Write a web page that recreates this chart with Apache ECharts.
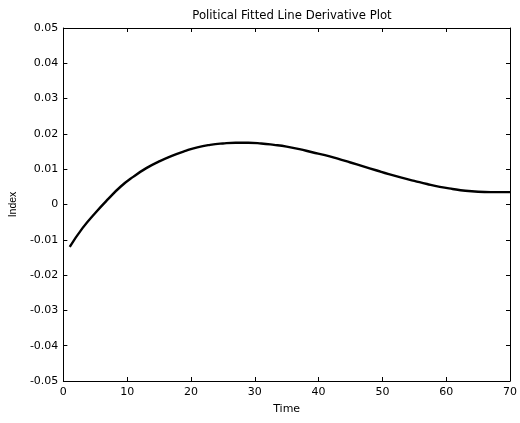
<!DOCTYPE html>
<html>
<head>
<meta charset="utf-8">
<script src="https://cdn.jsdelivr.net/npm/echarts@6/dist/echarts.min.js"></script>
<style>
  html, body { margin: 0; padding: 0; background: #fff; }
  #chart { width: 520px; height: 423px; }
</style>
</head>
<body>
<div id="chart"></div>
<script>
// Derivative of the fitted political index over time
const times = [1, 3, 5, 7, 9, 11, 13, 15, 17, 19, 21, 23, 25, 27, 29, 31, 33, 35, 37, 39,
  41, 43, 45, 47, 49, 51, 53, 55, 57, 59, 61, 63, 65, 67, 69, 70];
const derivative = [-0.0120, -0.0067, -0.0024, 0.0015, 0.0051, 0.0079, 0.0103, 0.0122, 0.0138, 0.0151,
  0.0162, 0.0169, 0.0173, 0.0175, 0.0175, 0.0173, 0.0169, 0.0164, 0.0157, 0.0148,
  0.0140, 0.0130, 0.0119, 0.0108, 0.0097, 0.0086, 0.0076, 0.0067, 0.0058, 0.0050,
  0.0044, 0.0039, 0.0036, 0.0035, 0.0035, 0.0035];
const xTicks = [0, 10, 20, 30, 40, 50, 60, 70];
const yTicks = [-0.05, -0.04, -0.03, -0.02, -0.01, 0, 0.01, 0.02, 0.03, 0.04, 0.05];

const chartTitle = 'Political Fitted Line Derivative Plot';
const xName = 'Time';
const yName = 'Index';

const font = '"DejaVu Sans", Verdana, sans-serif';
const rotFont = 'Arial, "Liberation Sans", sans-serif';
const points = times.map((t, i) => [t, derivative[i]]);

const lineStyle = { color: '#000', width: 1 };
const fmtY = v => (Math.abs(v) < 1e-9 ? '0' : v.toFixed(2));

const chart = echarts.init(document.getElementById('chart'), null, { renderer: 'canvas' });
chart.setOption({
  animation: false,
  backgroundColor: '#fff',
  title: {
    text: chartTitle,
    left: 287, top: 5,
    textAlign: 'center',
    textStyle: { fontFamily: font, fontSize: 11.7, fontWeight: 'normal', color: '#000' }
  },
  grid: { left: 63, right: 9, top: 28, bottom: 42, containLabel: false },
  xAxis: [
    {
      type: 'value', min: xTicks[0], max: xTicks[xTicks.length - 1], interval: 10,
      name: xName, nameLocation: 'middle', nameGap: 23,
      nameTextStyle: { fontFamily: font, fontSize: 11, color: '#000' },
      axisLine: { show: true, onZero: false, lineStyle },
      axisTick: { show: true, inside: true, length: 4, lineStyle },
      axisLabel: { fontFamily: font, fontSize: 11, color: '#000', margin: 6 },
      splitLine: { show: false }
    },
    {
      type: 'value', position: 'top', min: xTicks[0], max: xTicks[xTicks.length - 1], interval: 10,
      axisLine: { show: true, onZero: false, lineStyle },
      axisTick: { show: true, inside: true, length: 4, lineStyle },
      axisLabel: { show: false },
      splitLine: { show: false }
    }
  ],
  yAxis: [
    {
      type: 'value', min: yTicks[0], max: yTicks[yTicks.length - 1], interval: 0.01,
      name: yName, nameLocation: 'middle', nameGap: 44, nameRotate: 90,
      nameTextStyle: { fontFamily: rotFont, fontSize: 10.5, color: '#000' },
      axisLine: { show: true, onZero: false, lineStyle },
      axisTick: { show: true, inside: true, length: 4, lineStyle },
      axisLabel: { fontFamily: font, fontSize: 11, color: '#000', margin: 5, formatter: fmtY },
      splitLine: { show: false }
    },
    {
      type: 'value', position: 'right', min: yTicks[0], max: yTicks[yTicks.length - 1], interval: 0.01,
      axisLine: { show: true, onZero: false, lineStyle },
      axisTick: { show: true, inside: true, length: 4, lineStyle },
      axisLabel: { show: false },
      splitLine: { show: false }
    }
  ],
  series: [{
    type: 'line',
    data: points,
    xAxisIndex: 0, yAxisIndex: 0,
    smooth: true,
    showSymbol: false,
    lineStyle: { color: '#000', width: 2.4 }
  }]
});
</script>
</body>
</html>
